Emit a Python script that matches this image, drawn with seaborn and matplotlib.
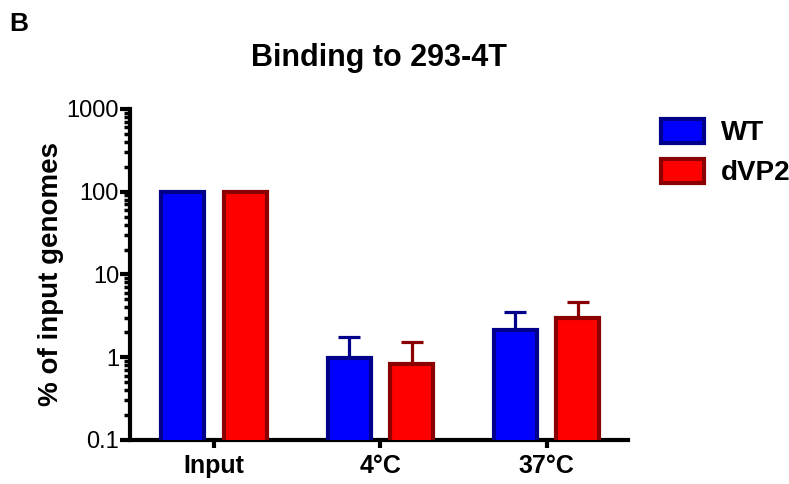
import numpy as np
import pandas as pd
import seaborn as sns
import matplotlib.pyplot as plt
from matplotlib.patches import Patch
from matplotlib.ticker import LogLocator, FixedLocator

# data
conditions = ["Input", "4°C", "37°C"]
strains = ["WT", "dVP2"]
wt_mean = [100, 0.97, 2.15]
wt_err = [0, 0.78, 1.4]
dvp2_mean = [100, 0.82, 2.95]
dvp2_err = [0, 0.7, 1.65]

df = pd.DataFrame({
    "condition": conditions * 2,
    "strain": ["WT"] * 3 + ["dVP2"] * 3,
    "value": wt_mean + dvp2_mean,
})

fill = {"WT": "#0000FF", "dVP2": "#FF0000"}
edge = {"WT": "#00008B", "dVP2": "#8B0000"}

sns.set_style("ticks")
plt.rcParams["font.family"] = ["Liberation Sans", "DejaVu Sans"]
plt.rcParams["text.color"] = "black"
plt.rcParams["axes.labelcolor"] = "black"
plt.rcParams["xtick.color"] = "black"
plt.rcParams["ytick.color"] = "black"
plt.rcParams["axes.edgecolor"] = "black"

fig = plt.figure(figsize=(7.89, 4.84), dpi=100)
ax = fig.add_axes([0.165, 0.091, 0.631, 0.684])

sns.barplot(data=df, x="condition", y="value", hue="strain", order=conditions,
            hue_order=strains, palette=fill, saturation=1, width=0.75, gap=0.31,
            linewidth=3, legend=False, ax=ax, zorder=3)

# edge colours per strain + upper error bars
errs = {"WT": wt_err, "dVP2": dvp2_err}
for cont, s in zip(ax.containers, strains):
    for bar, e in zip(cont, errs[s]):
        bar.set_edgecolor(edge[s])
        if e > 0:
            xc = bar.get_x() + bar.get_width() / 2
            top = bar.get_height()
            ax.errorbar(xc, top, yerr=[[0], [e]], color=edge[s], lw=2.3,
                        capsize=8, capthick=2.3, zorder=2)

ax.set_yscale("log")
ax.set_ylim(0.1, 1000)
ax.set_xlim(-0.505, 2.49)
ax.yaxis.set_major_locator(FixedLocator([0.1, 1, 10, 100, 1000]))
ax.set_yticklabels(["0.1", "1", "10", "100", "1000"], fontsize=17)
ax.yaxis.set_minor_locator(LogLocator(base=10, subs=np.arange(2, 10)))
ax.yaxis.set_minor_formatter(plt.NullFormatter())
ax.tick_params(axis="y", which="major", length=7, width=3, pad=1)
ax.tick_params(axis="y", which="minor", length=4, width=2.5)
ax.tick_params(axis="x", length=6, width=3, pad=4)
for lab in ax.get_xticklabels():
    lab.set_fontweight("bold")
    lab.set_fontsize(18)

sns.despine(ax=ax)
ax.spines["left"].set_linewidth(3)
ax.spines["bottom"].set_linewidth(3)

ax.set_xlabel("")
ax.set_ylabel("% of input genomes", fontsize=20, fontweight="bold", labelpad=2)
ax.set_title("Binding to 293-4T", fontsize=22, fontweight="bold", pad=31)

handles = [Patch(facecolor=fill[s], edgecolor=edge[s], linewidth=3, label=s)
           for s in strains]
fig.legend(handles=handles, loc="upper left", bbox_to_anchor=(0.838, 0.755),
           frameon=False, prop={"weight": "bold", "size": 20},
           handlelength=1.55, handleheight=0.95, labelspacing=0.45,
           handletextpad=0.6, borderaxespad=0, borderpad=0)

fig.text(0.012, 0.975, "B", fontsize=19, fontweight="bold", va="top")

fig.savefig("out.png", dpi=100)
